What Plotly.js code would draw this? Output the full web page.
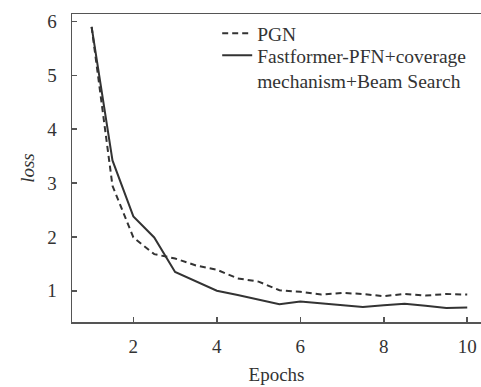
<!DOCTYPE html>
<html>
<head>
<meta charset="utf-8">
<script src="https://cdn.plot.ly/plotly-3.0.1.min.js"></script>
<style>html,body{margin:0;padding:0;background:#fff;}#chart{width:481px;height:387px;}</style>
</head>
<body>
<div id="chart"></div>
<script>
const epochs = [1, 1.5, 2, 2.5, 3, 3.5, 4, 4.5, 5, 5.5, 6, 6.5, 7, 7.5, 8, 8.5, 9, 9.5, 10];
const pgnLoss = [5.9, 2.95, 1.99, 1.68, 1.60, 1.47, 1.39, 1.23, 1.17, 1.01, 0.98, 0.93, 0.96, 0.94, 0.90, 0.94, 0.91, 0.94, 0.93];
const fastformerLoss = [5.9, 3.42, 2.38, 1.99, 1.35, 1.17, 1.00, 0.92, 0.84, 0.75, 0.80, 0.77, 0.73, 0.70, 0.73, 0.76, 0.72, 0.68, 0.69];
const xTicks = [2, 4, 6, 8, 10];
const yTicks = [1, 2, 3, 4, 5, 6];
const seriesNames = ["PGN", "Fastformer-PFN+coverage<br>mechanism+Beam Search"];

const font = "Times New Roman, Liberation Serif, serif";
const legendFont = {family: font, size: 19.5, color: "#333"};
const traces = [
  {x: epochs, y: pgnLoss, name: seriesNames[0], mode: "lines", legend: "legend",
   line: {color: "#333333", width: 2, dash: "6px,4px"}},
  {x: epochs, y: fastformerLoss, name: seriesNames[1], mode: "lines", legend: "legend2",
   line: {color: "#333333", width: 2}}
];
const layout = {
  width: 481, height: 387,
  margin: {l: 72, r: 0, t: 14, b: 65},
  paper_bgcolor: "#fff", plot_bgcolor: "#fff",
  font: {family: font, size: 19, color: "#333"},
  showlegend: true,
  legend: {x: 0.355, y: 1.0, xanchor: "left", yanchor: "top", bgcolor: "rgba(0,0,0,0)",
           font: legendFont, valign: "top"},
  legend2: {x: 0.355, y: 0.928, xanchor: "left", yanchor: "top", bgcolor: "rgba(0,0,0,0)",
           font: legendFont, valign: "top"},
  xaxis: {range: [0.53, 10.33], tickvals: xTicks, ticks: "inside", ticklen: 5, tickwidth: 1.5,
          tickcolor: "#555", showline: true, linecolor: "#555", linewidth: 1.5, mirror: true,
          showgrid: false, zeroline: false, ticklabelstandoff: 7,
          title: {text: "Epochs", font: {family: font, size: 19, color: "#333"}, standoff: 11}},
  yaxis: {range: [0.42, 6.14], tickvals: yTicks, ticks: "inside", ticklen: 5, tickwidth: 1.5,
          tickcolor: "#555", showline: true, linecolor: "#555", linewidth: 1.5,
          showgrid: false, zeroline: false, ticklabelstandoff: 10,
          title: {text: "<i>loss</i>", font: {family: font, size: 19, color: "#333"}, standoff: 7}}
};
Plotly.newPlot("chart", traces, layout, {staticPlot: true});
</script>
</body>
</html>
